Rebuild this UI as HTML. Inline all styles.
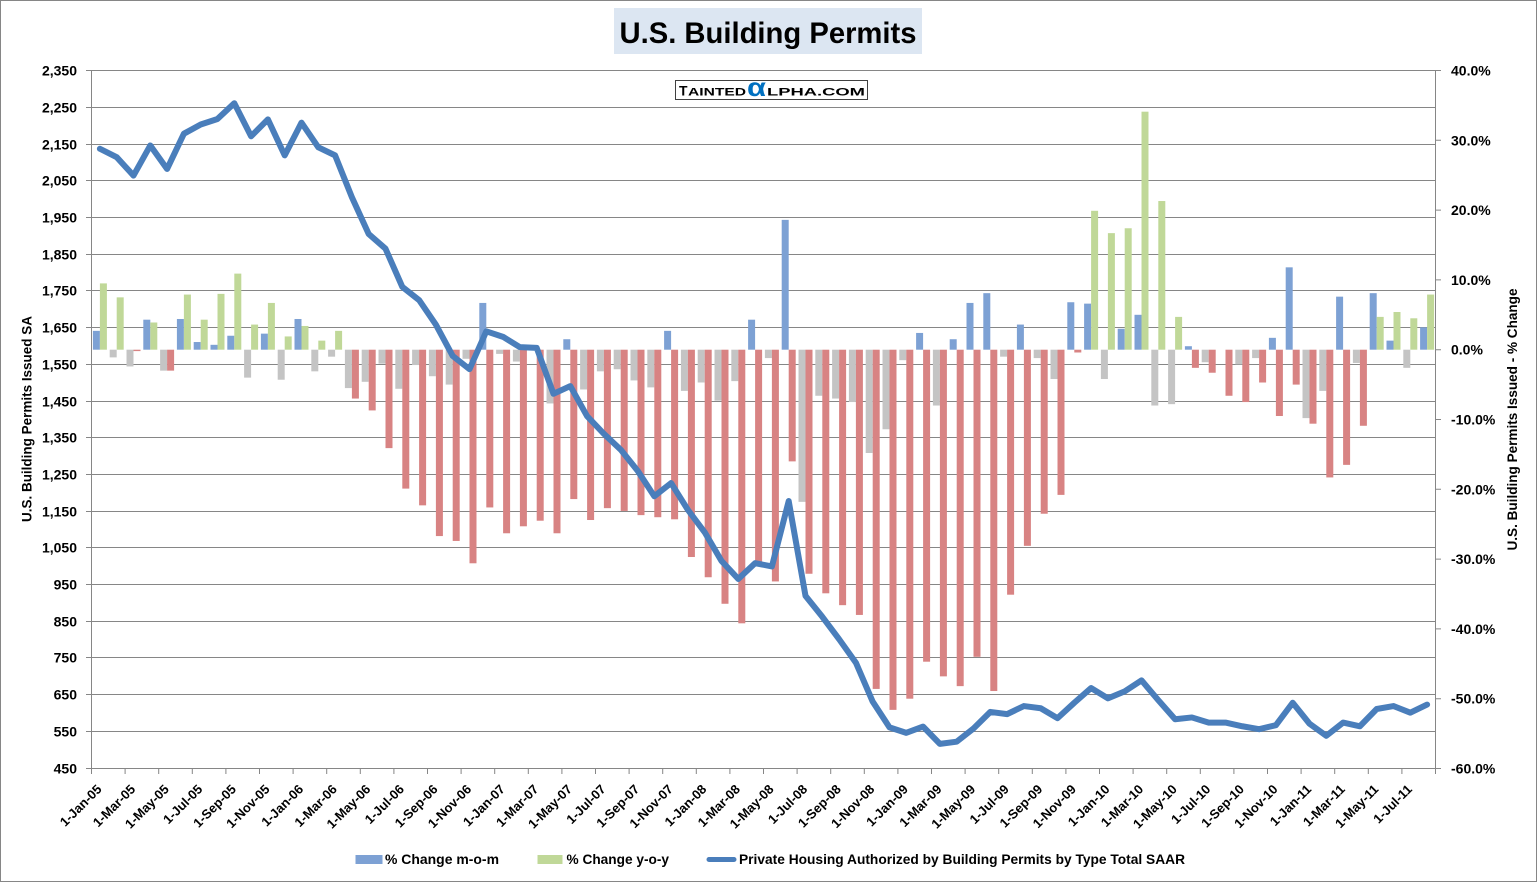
<!DOCTYPE html>
<html>
<head>
<meta charset="utf-8">
<style>
html,body{margin:0;padding:0;background:#fff;}
svg{display:block;}
text{font-family:"Liberation Sans",Arial,sans-serif;font-weight:bold;fill:#000;}
</style>
</head>
<body>
<svg width="1537" height="882" viewBox="0 0 1537 882" xmlns="http://www.w3.org/2000/svg">
<rect x="0.5" y="0.5" width="1536" height="881" fill="#fff" stroke="#868686" stroke-width="1"/>

<!-- Title -->
<rect x="614" y="8" width="308" height="46" fill="#dce6f2"/>
<text x="619.5" y="43" font-size="30" textLength="297" lengthAdjust="spacingAndGlyphs">U.S. Building Permits</text>

<!-- gridlines -->
<path d="M91 70.5H1436M91 107.5H1436M91 144.5H1436M91 180.5H1436M91 217.5H1436M91 254.5H1436M91 290.5H1436M91 327.5H1436M91 364.5H1436M91 401.5H1436M91 437.5H1436M91 474.5H1436M91 511.5H1436M91 547.5H1436M91 584.5H1436M91 621.5H1436M91 657.5H1436M91 694.5H1436M91 731.5H1436M91 768.5H1436" stroke="#868686" stroke-width="1" fill="none"/>

<!-- Logo -->
<rect x="675.5" y="80.5" width="192" height="19" fill="#fff" stroke="#404040" stroke-width="1"/>
<text x="679" y="95.5" font-size="14" textLength="8.5" lengthAdjust="spacingAndGlyphs">T</text>
<text x="688" y="95.5" font-size="11" textLength="58" lengthAdjust="spacingAndGlyphs">AINTED</text>
<text x="747" y="96" font-size="26" textLength="19" lengthAdjust="spacingAndGlyphs" style="fill:#0070c0">α</text>
<text x="767" y="95.5" font-size="11" textLength="98" lengthAdjust="spacingAndGlyphs">LPHA.COM</text>

<!-- axes lines -->
<path d="M91.5 70V769M1435.5 70V769" stroke="#868686" stroke-width="1" fill="none"/>
<!-- left ticks -->
<path d="M86 70.5h5M86 107.5h5M86 144.5h5M86 180.5h5M86 217.5h5M86 254.5h5M86 290.5h5M86 327.5h5M86 364.5h5M86 401.5h5M86 437.5h5M86 474.5h5M86 511.5h5M86 547.5h5M86 584.5h5M86 621.5h5M86 657.5h5M86 694.5h5M86 731.5h5M86 768.5h5" stroke="#868686" stroke-width="1" fill="none"/>
<!-- right ticks -->
<path d="M1436 70.5h5M1436 140.3h5M1436 210.1h5M1436 279.9h5M1436 349.7h5M1436 419.5h5M1436 489.3h5M1436 559.1h5M1436 628.9h5M1436 698.7h5M1436 768.5h5" stroke="#868686" stroke-width="1" fill="none"/>
<!-- bottom ticks -->
<path d="M91.5 768v6M125.1 768v6M158.7 768v6M192.3 768v6M225.9 768v6M259.5 768v6M293.1 768v6M326.7 768v6M360.3 768v6M393.9 768v6M427.5 768v6M461.1 768v6M494.7 768v6M528.3 768v6M561.9 768v6M595.5 768v6M629.1 768v6M662.7 768v6M696.3 768v6M729.9 768v6M763.5 768v6M797.1 768v6M830.7 768v6M864.3 768v6M897.9 768v6M931.5 768v6M965.1 768v6M998.7 768v6M1032.3 768v6M1065.9 768v6M1099.5 768v6M1133.1 768v6M1166.7 768v6M1200.3 768v6M1233.9 768v6M1267.5 768v6M1301.1 768v6M1334.7 768v6M1368.3 768v6M1401.9 768v6M1435.5 768v6" stroke="#868686" stroke-width="1" fill="none"/>

<!-- Bars -->
<g transform="translate(99.9 349.7) scale(16.8 -6.98)">
 <g transform="translate(-0.41667 0)">
  <g fill="#7da1d4">
   <rect x="0" y="0" width="0.41667" height="2.7"/>
   <rect x="3" y="0" width="0.41667" height="4.3"/>
   <rect x="5" y="0" width="0.41667" height="4.4"/>
   <rect x="6" y="0" width="0.41667" height="1.1"/>
   <rect x="7" y="0" width="0.41667" height="0.7"/>
   <rect x="8" y="0" width="0.41667" height="2.0"/>
   <rect x="10" y="0" width="0.41667" height="2.3"/>
   <rect x="12" y="0" width="0.41667" height="4.4"/>
   <rect x="23" y="0" width="0.41667" height="6.7"/>
   <rect x="28" y="0" width="0.41667" height="1.5"/>
   <rect x="34" y="0" width="0.41667" height="2.7"/>
   <rect x="39" y="0" width="0.41667" height="4.3"/>
   <rect x="41" y="0" width="0.41667" height="18.6"/>
   <rect x="49" y="0" width="0.41667" height="2.4"/>
   <rect x="51" y="0" width="0.41667" height="1.5"/>
   <rect x="52" y="0" width="0.41667" height="6.7"/>
   <rect x="53" y="0" width="0.41667" height="8.1"/>
   <rect x="55" y="0" width="0.41667" height="3.6"/>
   <rect x="58" y="0" width="0.41667" height="6.8"/>
   <rect x="59" y="0" width="0.41667" height="6.6"/>
   <rect x="61" y="0" width="0.41667" height="3.0"/>
   <rect x="62" y="0" width="0.41667" height="5.0"/>
   <rect x="65" y="0" width="0.41667" height="0.5"/>
   <rect x="70" y="0" width="0.41667" height="1.7"/>
   <rect x="71" y="0" width="0.41667" height="11.8"/>
   <rect x="74" y="0" width="0.41667" height="7.6"/>
   <rect x="76" y="0" width="0.41667" height="8.1"/>
   <rect x="77" y="0" width="0.41667" height="1.3"/>
   <rect x="79" y="0" width="0.41667" height="3.2"/>
  </g>
  <g fill="#c4c4c4">
   <rect x="1" y="-1.1" width="0.41667" height="1.1"/>
   <rect x="2" y="-2.4" width="0.41667" height="2.4"/>
   <rect x="4" y="-3.0" width="0.41667" height="3.0"/>
   <rect x="9" y="-4.0" width="0.41667" height="4.0"/>
   <rect x="11" y="-4.3" width="0.41667" height="4.3"/>
   <rect x="13" y="-3.1" width="0.41667" height="3.1"/>
   <rect x="14" y="-1.0" width="0.41667" height="1.0"/>
   <rect x="15" y="-5.5" width="0.41667" height="5.5"/>
   <rect x="16" y="-4.6" width="0.41667" height="4.6"/>
   <rect x="17" y="-2.0" width="0.41667" height="2.0"/>
   <rect x="18" y="-5.6" width="0.41667" height="5.6"/>
   <rect x="19" y="-2.2" width="0.41667" height="2.2"/>
   <rect x="20" y="-3.8" width="0.41667" height="3.8"/>
   <rect x="21" y="-5.0" width="0.41667" height="5.0"/>
   <rect x="22" y="-1.3" width="0.41667" height="1.3"/>
   <rect x="24" y="-0.6" width="0.41667" height="0.6"/>
   <rect x="25" y="-1.7" width="0.41667" height="1.7"/>
   <rect x="26" y="-0.1" width="0.41667" height="0.1"/>
   <rect x="27" y="-7.7" width="0.41667" height="7.7"/>
   <rect x="29" y="-5.7" width="0.41667" height="5.7"/>
   <rect x="30" y="-3.1" width="0.41667" height="3.1"/>
   <rect x="31" y="-2.8" width="0.41667" height="2.8"/>
   <rect x="32" y="-4.4" width="0.41667" height="4.4"/>
   <rect x="33" y="-5.4" width="0.41667" height="5.4"/>
   <rect x="35" y="-5.9" width="0.41667" height="5.9"/>
   <rect x="36" y="-4.7" width="0.41667" height="4.7"/>
   <rect x="37" y="-7.3" width="0.41667" height="7.3"/>
   <rect x="38" y="-4.5" width="0.41667" height="4.5"/>
   <rect x="40" y="-1.2" width="0.41667" height="1.2"/>
   <rect x="42" y="-21.8" width="0.41667" height="21.8"/>
   <rect x="43" y="-6.6" width="0.41667" height="6.6"/>
   <rect x="44" y="-7.0" width="0.41667" height="7.0"/>
   <rect x="45" y="-7.5" width="0.41667" height="7.5"/>
   <rect x="46" y="-14.8" width="0.41667" height="14.8"/>
   <rect x="47" y="-11.4" width="0.41667" height="11.4"/>
   <rect x="48" y="-1.5" width="0.41667" height="1.5"/>
   <rect x="50" y="-8.0" width="0.41667" height="8.0"/>
   <rect x="54" y="-1.0" width="0.41667" height="1.0"/>
   <rect x="56" y="-1.2" width="0.41667" height="1.2"/>
   <rect x="57" y="-4.2" width="0.41667" height="4.2"/>
   <rect x="60" y="-4.2" width="0.41667" height="4.2"/>
   <rect x="63" y="-8.0" width="0.41667" height="8.0"/>
   <rect x="64" y="-7.8" width="0.41667" height="7.8"/>
   <rect x="66" y="-1.8" width="0.41667" height="1.8"/>
   <rect x="68" y="-2.1" width="0.41667" height="2.1"/>
   <rect x="69" y="-1.2" width="0.41667" height="1.2"/>
   <rect x="72" y="-9.8" width="0.41667" height="9.8"/>
   <rect x="73" y="-5.9" width="0.41667" height="5.9"/>
   <rect x="75" y="-1.9" width="0.41667" height="1.9"/>
   <rect x="78" y="-2.6" width="0.41667" height="2.6"/>
  </g>
 </g>
 <g fill="#c0d898">
  <rect x="0" y="0" width="0.41667" height="9.5"/>
  <rect x="1" y="0" width="0.41667" height="7.5"/>
  <rect x="3" y="0" width="0.41667" height="3.9"/>
  <rect x="5" y="0" width="0.41667" height="7.9"/>
  <rect x="6" y="0" width="0.41667" height="4.3"/>
  <rect x="7" y="0" width="0.41667" height="8.0"/>
  <rect x="8" y="0" width="0.41667" height="10.9"/>
  <rect x="9" y="0" width="0.41667" height="3.6"/>
  <rect x="10" y="0" width="0.41667" height="6.7"/>
  <rect x="11" y="0" width="0.41667" height="1.9"/>
  <rect x="12" y="0" width="0.41667" height="3.4"/>
  <rect x="13" y="0" width="0.41667" height="1.3"/>
  <rect x="14" y="0" width="0.41667" height="2.7"/>
  <rect x="59" y="0" width="0.41667" height="19.9"/>
  <rect x="60" y="0" width="0.41667" height="16.7"/>
  <rect x="61" y="0" width="0.41667" height="17.4"/>
  <rect x="62" y="0" width="0.41667" height="34.1"/>
  <rect x="63" y="0" width="0.41667" height="21.3"/>
  <rect x="64" y="0" width="0.41667" height="4.7"/>
  <rect x="76" y="0" width="0.41667" height="4.7"/>
  <rect x="77" y="0" width="0.41667" height="5.4"/>
  <rect x="78" y="0" width="0.41667" height="4.5"/>
  <rect x="79" y="0" width="0.41667" height="7.9"/>
 </g>
 <g fill="#d88383">
  <rect x="2" y="-0.2" width="0.41667" height="0.2"/>
  <rect x="4" y="-3.0" width="0.41667" height="3.0"/>
  <rect x="15" y="-7.0" width="0.41667" height="7.0"/>
  <rect x="16" y="-8.7" width="0.41667" height="8.7"/>
  <rect x="17" y="-14.1" width="0.41667" height="14.1"/>
  <rect x="18" y="-19.9" width="0.41667" height="19.9"/>
  <rect x="19" y="-22.3" width="0.41667" height="22.3"/>
  <rect x="20" y="-26.7" width="0.41667" height="26.7"/>
  <rect x="21" y="-27.4" width="0.41667" height="27.4"/>
  <rect x="22" y="-30.6" width="0.41667" height="30.6"/>
  <rect x="23" y="-22.6" width="0.41667" height="22.6"/>
  <rect x="24" y="-26.3" width="0.41667" height="26.3"/>
  <rect x="25" y="-25.3" width="0.41667" height="25.3"/>
  <rect x="26" y="-24.5" width="0.41667" height="24.5"/>
  <rect x="27" y="-26.3" width="0.41667" height="26.3"/>
  <rect x="28" y="-21.4" width="0.41667" height="21.4"/>
  <rect x="29" y="-24.4" width="0.41667" height="24.4"/>
  <rect x="30" y="-22.7" width="0.41667" height="22.7"/>
  <rect x="31" y="-23.1" width="0.41667" height="23.1"/>
  <rect x="32" y="-23.7" width="0.41667" height="23.7"/>
  <rect x="33" y="-24.0" width="0.41667" height="24.0"/>
  <rect x="34" y="-24.3" width="0.41667" height="24.3"/>
  <rect x="35" y="-29.7" width="0.41667" height="29.7"/>
  <rect x="36" y="-32.6" width="0.41667" height="32.6"/>
  <rect x="37" y="-36.4" width="0.41667" height="36.4"/>
  <rect x="38" y="-39.2" width="0.41667" height="39.2"/>
  <rect x="39" y="-30.5" width="0.41667" height="30.5"/>
  <rect x="40" y="-33.2" width="0.41667" height="33.2"/>
  <rect x="41" y="-16.0" width="0.41667" height="16.0"/>
  <rect x="42" y="-32.1" width="0.41667" height="32.1"/>
  <rect x="43" y="-34.9" width="0.41667" height="34.9"/>
  <rect x="44" y="-36.6" width="0.41667" height="36.6"/>
  <rect x="45" y="-38.0" width="0.41667" height="38.0"/>
  <rect x="46" y="-48.6" width="0.41667" height="48.6"/>
  <rect x="47" y="-51.6" width="0.41667" height="51.6"/>
  <rect x="48" y="-50.0" width="0.41667" height="50.0"/>
  <rect x="49" y="-44.7" width="0.41667" height="44.7"/>
  <rect x="50" y="-46.8" width="0.41667" height="46.8"/>
  <rect x="51" y="-48.2" width="0.41667" height="48.2"/>
  <rect x="52" y="-44.0" width="0.41667" height="44.0"/>
  <rect x="53" y="-48.9" width="0.41667" height="48.9"/>
  <rect x="54" y="-35.1" width="0.41667" height="35.1"/>
  <rect x="55" y="-28.1" width="0.41667" height="28.1"/>
  <rect x="56" y="-23.5" width="0.41667" height="23.5"/>
  <rect x="57" y="-20.8" width="0.41667" height="20.8"/>
  <rect x="58" y="-0.4" width="0.41667" height="0.4"/>
  <rect x="65" y="-2.6" width="0.41667" height="2.6"/>
  <rect x="66" y="-3.3" width="0.41667" height="3.3"/>
  <rect x="67" y="-6.6" width="0.41667" height="6.6"/>
  <rect x="68" y="-7.5" width="0.41667" height="7.5"/>
  <rect x="69" y="-4.7" width="0.41667" height="4.7"/>
  <rect x="70" y="-9.5" width="0.41667" height="9.5"/>
  <rect x="71" y="-5.0" width="0.41667" height="5.0"/>
  <rect x="72" y="-10.6" width="0.41667" height="10.6"/>
  <rect x="73" y="-18.3" width="0.41667" height="18.3"/>
  <rect x="74" y="-16.5" width="0.41667" height="16.5"/>
  <rect x="75" y="-10.9" width="0.41667" height="10.9"/>
 </g>
</g>

<!-- Line -->
<g transform="translate(99.9 933.82) scale(16.8 -0.367368)">
<polyline fill="none" stroke="#4a7ebb" stroke-width="6" stroke-linejoin="round" stroke-linecap="round" vector-effect="non-scaling-stroke"
points="0,2137 1,2114 2,2064 3,2146 4,2082 5,2178 6,2203 7,2218 8,2261 9,2171 10,2217 11,2119 12,2208 13,2141 14,2119 15,2005 16,1905 17,1865 18,1761 19,1725 20,1658 21,1573 22,1537 23,1640 24,1625 25,1597 26,1595 27,1470 28,1491 29,1409 30,1361 31,1318 32,1261 33,1191 34,1227 35,1154 36,1093 37,1015 38,966 39,1009 40,1000 41,1178 42,920 43,863 44,802 45,738 46,632 47,562 48,547 49,564 50,517 51,523 52,559 53,604 54,598 55,620 56,614 57,587 58,629 59,669 60,641 61,660 62,690 63,636 64,584 65,589 66,575 67,575 68,565 69,557 70,568 71,629 72,572 73,539 74,575 75,565 76,612 77,620 78,602 79,624"/>
</g>

<!-- Left axis labels -->
<g font-size="14" text-anchor="end">
<text x="77" y="75.5">2,350</text>
<text x="77" y="112.5">2,250</text>
<text x="77" y="149.5">2,150</text>
<text x="77" y="185.5">2,050</text>
<text x="77" y="222.5">1,950</text>
<text x="77" y="259.5">1,850</text>
<text x="77" y="295.5">1,750</text>
<text x="77" y="332.5">1,650</text>
<text x="77" y="369.5">1,550</text>
<text x="77" y="406.5">1,450</text>
<text x="77" y="442.5">1,350</text>
<text x="77" y="479.5">1,250</text>
<text x="77" y="516.5">1,150</text>
<text x="77" y="552.5">1,050</text>
<text x="77" y="589.5">950</text>
<text x="77" y="626.5">850</text>
<text x="77" y="662.5">750</text>
<text x="77" y="699.5">650</text>
<text x="77" y="736.5">550</text>
<text x="77" y="773.5">450</text>
</g>

<!-- Right axis labels -->
<g font-size="14">
<text x="1451" y="75.5">40.0%</text>
<text x="1451" y="145.3">30.0%</text>
<text x="1451" y="215.1">20.0%</text>
<text x="1451" y="284.9">10.0%</text>
<text x="1451" y="354.7">0.0%</text>
<text x="1451" y="424.5">-10.0%</text>
<text x="1451" y="494.3">-20.0%</text>
<text x="1451" y="564.1">-30.0%</text>
<text x="1451" y="633.9">-40.0%</text>
<text x="1451" y="703.7">-50.0%</text>
<text x="1451" y="773.5">-60.0%</text>
</g>

<!-- Axis titles -->
<text transform="translate(31.5 419) rotate(-90)" font-size="13.5" text-anchor="middle" textLength="206" lengthAdjust="spacingAndGlyphs">U.S. Building Permits Issued SA</text>
<text transform="translate(1517 419.5) rotate(-90)" font-size="13.5" text-anchor="middle" textLength="262" lengthAdjust="spacingAndGlyphs">U.S. Building Permits Issued - % Change</text>

<!-- X axis labels -->
<g font-size="13" text-anchor="end">
<text transform="translate(102.5 790) rotate(-45)">1-Jan-05</text>
<text transform="translate(136.1 790) rotate(-45)">1-Mar-05</text>
<text transform="translate(169.7 790) rotate(-45)">1-May-05</text>
<text transform="translate(203.3 790) rotate(-45)">1-Jul-05</text>
<text transform="translate(236.9 790) rotate(-45)">1-Sep-05</text>
<text transform="translate(270.5 790) rotate(-45)">1-Nov-05</text>
<text transform="translate(304.1 790) rotate(-45)">1-Jan-06</text>
<text transform="translate(337.7 790) rotate(-45)">1-Mar-06</text>
<text transform="translate(371.3 790) rotate(-45)">1-May-06</text>
<text transform="translate(404.9 790) rotate(-45)">1-Jul-06</text>
<text transform="translate(438.5 790) rotate(-45)">1-Sep-06</text>
<text transform="translate(472.1 790) rotate(-45)">1-Nov-06</text>
<text transform="translate(505.7 790) rotate(-45)">1-Jan-07</text>
<text transform="translate(539.3 790) rotate(-45)">1-Mar-07</text>
<text transform="translate(572.9 790) rotate(-45)">1-May-07</text>
<text transform="translate(606.5 790) rotate(-45)">1-Jul-07</text>
<text transform="translate(640.1 790) rotate(-45)">1-Sep-07</text>
<text transform="translate(673.7 790) rotate(-45)">1-Nov-07</text>
<text transform="translate(707.3 790) rotate(-45)">1-Jan-08</text>
<text transform="translate(740.9 790) rotate(-45)">1-Mar-08</text>
<text transform="translate(774.5 790) rotate(-45)">1-May-08</text>
<text transform="translate(808.1 790) rotate(-45)">1-Jul-08</text>
<text transform="translate(841.7 790) rotate(-45)">1-Sep-08</text>
<text transform="translate(875.3 790) rotate(-45)">1-Nov-08</text>
<text transform="translate(908.9 790) rotate(-45)">1-Jan-09</text>
<text transform="translate(942.5 790) rotate(-45)">1-Mar-09</text>
<text transform="translate(976.1 790) rotate(-45)">1-May-09</text>
<text transform="translate(1009.7 790) rotate(-45)">1-Jul-09</text>
<text transform="translate(1043.3 790) rotate(-45)">1-Sep-09</text>
<text transform="translate(1076.9 790) rotate(-45)">1-Nov-09</text>
<text transform="translate(1110.5 790) rotate(-45)">1-Jan-10</text>
<text transform="translate(1144.1 790) rotate(-45)">1-Mar-10</text>
<text transform="translate(1177.7 790) rotate(-45)">1-May-10</text>
<text transform="translate(1211.3 790) rotate(-45)">1-Jul-10</text>
<text transform="translate(1244.9 790) rotate(-45)">1-Sep-10</text>
<text transform="translate(1278.5 790) rotate(-45)">1-Nov-10</text>
<text transform="translate(1312.1 790) rotate(-45)">1-Jan-11</text>
<text transform="translate(1345.7 790) rotate(-45)">1-Mar-11</text>
<text transform="translate(1379.3 790) rotate(-45)">1-May-11</text>
<text transform="translate(1412.9 790) rotate(-45)">1-Jul-11</text>
</g>

<!-- Legend -->
<rect x="355.5" y="855" width="27" height="9" fill="#7da1d4"/>
<text x="385" y="864" font-size="13.5" textLength="114" lengthAdjust="spacingAndGlyphs">% Change m-o-m</text>
<rect x="537.5" y="855" width="25" height="9" fill="#c0d898"/>
<text x="566.5" y="864" font-size="13.5" textLength="102.5" lengthAdjust="spacingAndGlyphs">% Change y-o-y</text>
<line x1="709" y1="859.5" x2="734" y2="859.5" stroke="#4a7ebb" stroke-width="5" stroke-linecap="round"/>
<text x="739" y="864" font-size="13.5" textLength="446" lengthAdjust="spacingAndGlyphs">Private Housing Authorized by Building Permits by Type Total SAAR</text>
</svg>
</body>
</html>
